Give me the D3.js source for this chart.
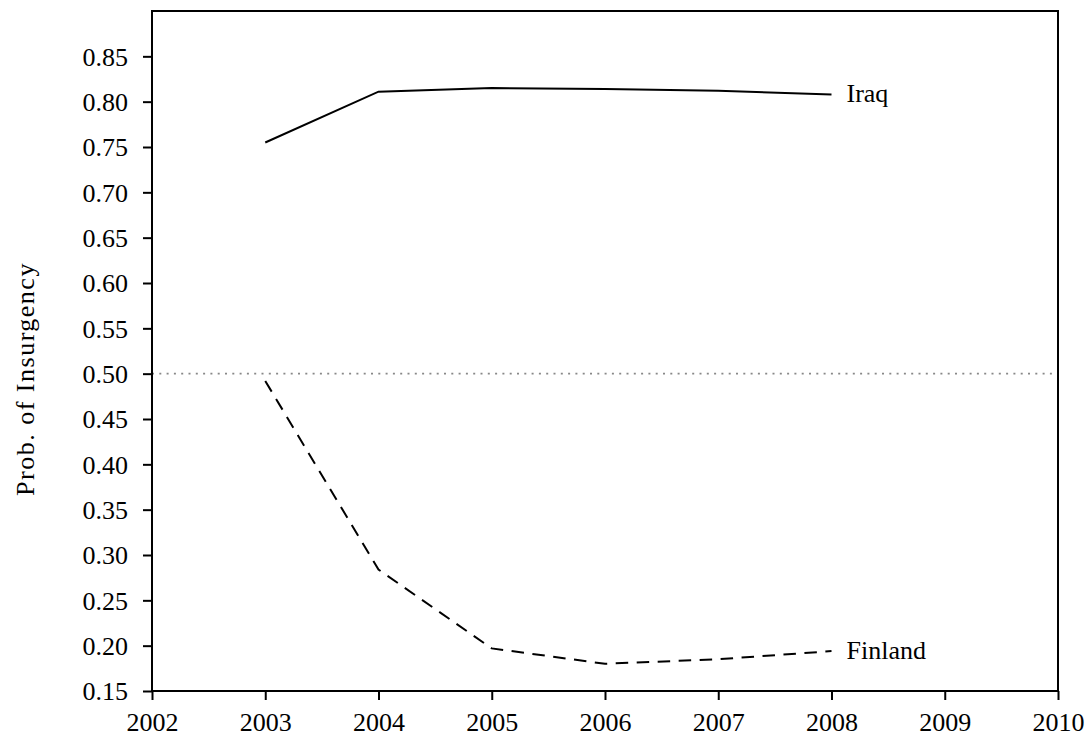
<!DOCTYPE html>
<html>
<head>
<meta charset="utf-8">
<script src="https://cdn.jsdelivr.net/npm/d3@7"></script>
<style>
  body { margin: 0; background: #fff; }
  text { font-family: "Liberation Serif", "DejaVu Serif", serif; fill: #000; }
</style>
</head>
<body>
<div id="chart"></div>
<script>
// data
var years = [2003, 2004, 2005, 2006, 2007, 2008];
var iraq = [0.755, 0.811, 0.815, 0.814, 0.812, 0.808];
var finland = [0.492, 0.284, 0.197, 0.180, 0.185, 0.194];
var yTicks = [0.15, 0.20, 0.25, 0.30, 0.35, 0.40, 0.45, 0.50, 0.55, 0.60, 0.65, 0.70, 0.75, 0.80, 0.85];
var xTicks = [2002, 2003, 2004, 2005, 2006, 2007, 2008, 2009, 2010];
var threshold = 0.5;

var font = "'Liberation Serif', 'DejaVu Serif', serif";

// set the dimensions and margins of the graph
var margin = {top: 11, right: 31, bottom: 46, left: 152},
    width = 1089 - margin.left - margin.right,
    height = 737 - margin.top - margin.bottom;

var svg = d3.select("#chart")
  .append("svg")
    .attr("width", 1089)
    .attr("height", 737)
  .append("g")
    .attr("transform", "translate(" + margin.left + "," + margin.top + ")");

var x = d3.scaleLinear()
  .domain([2002, 2010])
  .range([0, width]);
var y = d3.scaleLinear()
  .domain([0.15, 0.90])
  .range([height, 0]);

// dotted reference line at 0.5
svg.append("line")
  .attr("x1", 0)
  .attr("x2", width)
  .attr("y1", y(threshold))
  .attr("y2", y(threshold))
  .attr("stroke", "#888")
  .attr("stroke-width", 1.6)
  .attr("stroke-dasharray", "2,5.3");

// the two series
var line = d3.line()
  .x(function(d) { return x(d[0]) })
  .y(function(d) { return y(d[1]) });

svg.append("path")
  .datum(d3.zip(years, iraq))
  .attr("fill", "none")
  .attr("stroke", "#000")
  .attr("stroke-width", 2)
  .attr("d", line);

svg.append("path")
  .datum(d3.zip(years, finland))
  .attr("fill", "none")
  .attr("stroke", "#000")
  .attr("stroke-width", 2)
  .attr("stroke-dasharray", "12.5,8.5")
  .attr("d", line);

// direct labels
var last = years.length - 1;
svg.append("text")
  .attr("x", x(years[last]) + 15)
  .attr("y", y(iraq[last]))
  .attr("dy", "0.3em")
  .style("font-size", "26px")
  .text("Iraq");
svg.append("text")
  .attr("x", x(years[last]) + 15)
  .attr("y", y(finland[last]))
  .attr("dy", "0.3em")
  .style("font-size", "26px")
  .text("Finland");

// axes
var xAxis = svg.append("g")
  .attr("transform", "translate(0," + height + ")")
  .call(d3.axisBottom(x).tickValues(xTicks).tickFormat(d3.format("d")).tickSize(9).tickPadding(13));
var yAxis = svg.append("g")
  .call(d3.axisLeft(y).tickValues(yTicks).tickFormat(d3.format(".2f")).tickSize(9).tickPadding(15));

[xAxis, yAxis].forEach(function(a) {
  a.attr("font-family", font).attr("font-size", 26);
  a.select(".domain").remove();
  a.selectAll(".tick line").attr("stroke", "#000").attr("stroke-width", 2);
  a.selectAll(".tick text").attr("fill", "#000");
});
yAxis.selectAll(".tick text").attr("dy", "0.34em");

// frame
svg.append("rect")
  .attr("x", 0)
  .attr("y", 0)
  .attr("width", width)
  .attr("height", height)
  .attr("fill", "none")
  .attr("stroke", "#000")
  .attr("stroke-width", 2);

// y label
svg.append("text")
  .attr("transform", "translate(" + (25 - margin.left) + "," + (379 - margin.top) + ") rotate(-90)")
  .attr("text-anchor", "middle")
  .attr("dy", "0.35em")
  .style("font-size", "26px")
  .style("letter-spacing", "1.5px")
  .text("Prob. of Insurgency");
</script>
</body>
</html>
